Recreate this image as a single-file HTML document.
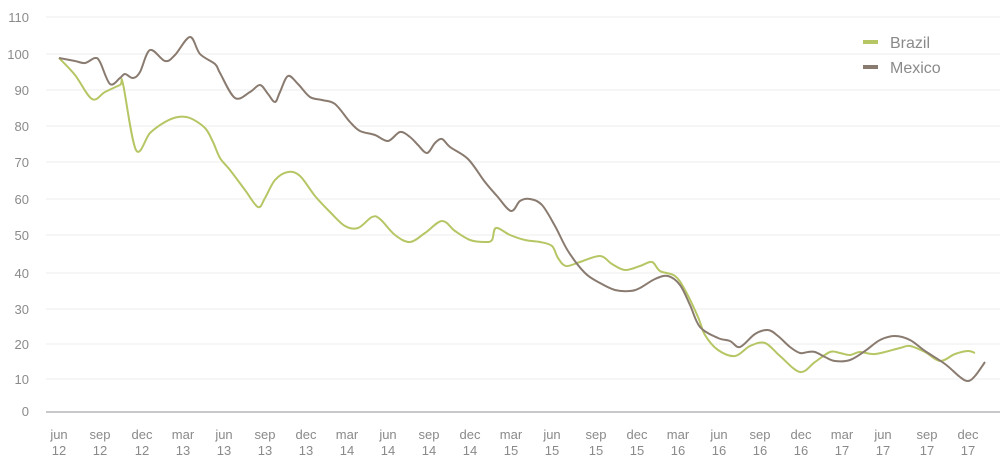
<!DOCTYPE html>
<html><head><meta charset="utf-8"><style>
body{margin:0;background:#fff}
svg text{font-family:"Liberation Sans",sans-serif;fill:#8a8a8a}
</style></head><body>
<svg id="s" width="1000" height="466" viewBox="0 0 1000 466" xmlns="http://www.w3.org/2000/svg">
<g stroke="#eeeeee" stroke-width="1">
<line x1="46" x2="1000" y1="17" y2="17"/><line x1="46" x2="1000" y1="54" y2="54"/>
<line x1="46" x2="1000" y1="90" y2="90"/><line x1="46" x2="1000" y1="126" y2="126"/>
<line x1="46" x2="1000" y1="162" y2="162"/><line x1="46" x2="1000" y1="199" y2="199"/>
<line x1="46" x2="1000" y1="235" y2="235"/><line x1="46" x2="1000" y1="273" y2="273"/>
<line x1="46" x2="1000" y1="309" y2="309"/><line x1="46" x2="1000" y1="344" y2="344"/>
<line x1="46" x2="1000" y1="379" y2="379"/>
</g>
<line x1="46" x2="1000" y1="412" y2="412" stroke="#c8c8cc" stroke-width="2"/>
<g font-size="13" text-anchor="end">
<text x="29" y="22">110</text><text x="29" y="59">100</text><text x="29" y="95">90</text>
<text x="29" y="131">80</text><text x="29" y="167">70</text><text x="29" y="204">60</text>
<text x="29" y="240">50</text><text x="29" y="278">40</text><text x="29" y="314">30</text>
<text x="29" y="349">20</text><text x="29" y="384">10</text><text x="29" y="416">0</text>
</g>
<g font-size="13" text-anchor="middle">
<text x="59" y="439">jun</text><text x="59" y="455">12</text>
<text x="100" y="439">sep</text><text x="100" y="455">12</text>
<text x="142" y="439">dec</text><text x="142" y="455">12</text>
<text x="183" y="439">mar</text><text x="183" y="455">13</text>
<text x="224" y="439">jun</text><text x="224" y="455">13</text>
<text x="265" y="439">sep</text><text x="265" y="455">13</text>
<text x="306" y="439">dec</text><text x="306" y="455">13</text>
<text x="347" y="439">mar</text><text x="347" y="455">14</text>
<text x="388" y="439">jun</text><text x="388" y="455">14</text>
<text x="429" y="439">sep</text><text x="429" y="455">14</text>
<text x="470" y="439">dec</text><text x="470" y="455">14</text>
<text x="511" y="439">mar</text><text x="511" y="455">15</text>
<text x="552" y="439">jun</text><text x="552" y="455">15</text>
<text x="596" y="439">sep</text><text x="596" y="455">15</text>
<text x="637" y="439">dec</text><text x="637" y="455">15</text>
<text x="678" y="439">mar</text><text x="678" y="455">16</text>
<text x="719" y="439">jun</text><text x="719" y="455">16</text>
<text x="760" y="439">sep</text><text x="760" y="455">16</text>
<text x="801" y="439">dec</text><text x="801" y="455">16</text>
<text x="842" y="439">mar</text><text x="842" y="455">17</text>
<text x="883" y="439">jun</text><text x="883" y="455">17</text>
<text x="927" y="439">sep</text><text x="927" y="455">17</text>
<text x="968" y="439">dec</text><text x="968" y="455">17</text>
</g>
<path id="br" fill="none" stroke="#b6c664" stroke-width="2" stroke-linejoin="round" data-p="59,58 75,75 92,99 105,92 120,85 123,84 136,150 150,133 165,122 178,117 190,118 205,128 213,142 220,158 230,170 245,190 258,207 265,198 275,180 288,172 300,176 315,196 330,212 345,226 358,228 372,217 380,219 395,235 410,242 425,233 442,221 455,231 470,240 485,242 492,240 496,228 510,235 525,240 540,242 552,246 558,258 566,266 580,262 600,256 612,264 625,270 640,266 652,262 660,271 675,276 685,290 698,317 705,335 718,350 735,356 750,346 765,343 780,356 800,372 815,362 830,352 840,353 850,355 860,352 875,354 900,348 910,346 925,352 940,361 955,354 968,351 975,353"/>
<path id="mx" fill="none" stroke="#8a7b70" stroke-width="2" stroke-linejoin="round" data-p="59,58 75,61 85,63 95,58 100,62 110,84 120,78 125,74 133,78 140,72 150,50 165,61 175,55 190,37 200,54 215,64 220,73 235,98 250,92 260,85 268,94 275,102 280,92 288,76 298,84 310,97 322,100 335,104 350,122 360,131 375,135 388,141 400,132 410,137 418,145 427,153 435,143 442,139 450,147 468,159 485,182 497,196 511,211 520,201 530,199 542,205 555,226 568,251 585,273 600,283 615,290 630,291 640,288 655,279 668,276 680,285 690,305 700,327 718,338 730,341 740,347 755,334 768,330 778,336 790,347 800,353 808,352 815,352 825,357 835,361 850,360 865,351 880,340 895,336 910,340 925,351 945,364 960,377 968,381 975,376 985,362"/>
<line x1="863" x2="878" y1="42" y2="42" stroke="#b6c664" stroke-width="4"/>
<line x1="863" x2="878" y1="67" y2="67" stroke="#8a7b70" stroke-width="4"/>
<text x="890" y="48" font-size="16" fill="#888">Brazil</text>
<text x="890" y="73" font-size="16" fill="#888">Mexico</text>
</svg>
<script>
['br','mx'].forEach(function(id){
var el=document.getElementById(id);
var p=el.getAttribute('data-p').split(' ').map(function(s){return s.split(',').map(Number);});
var d='M'+p[0][0]+','+p[0][1];
for(var i=0;i<p.length-1;i++){
var p0=p[i-1]||p[i],p1=p[i],p2=p[i+1],p3=p[i+2]||p2;
var c1x=p1[0]+(p2[0]-p0[0])/6,c1y=p1[1]+(p2[1]-p0[1])/6;
var c2x=p2[0]-(p3[0]-p1[0])/6,c2y=p2[1]-(p3[1]-p1[1])/6;
d+=' C'+c1x+','+c1y+' '+c2x+','+c2y+' '+p2[0]+','+p2[1];
}
el.setAttribute('d',d);
});
</script>
</body></html>
